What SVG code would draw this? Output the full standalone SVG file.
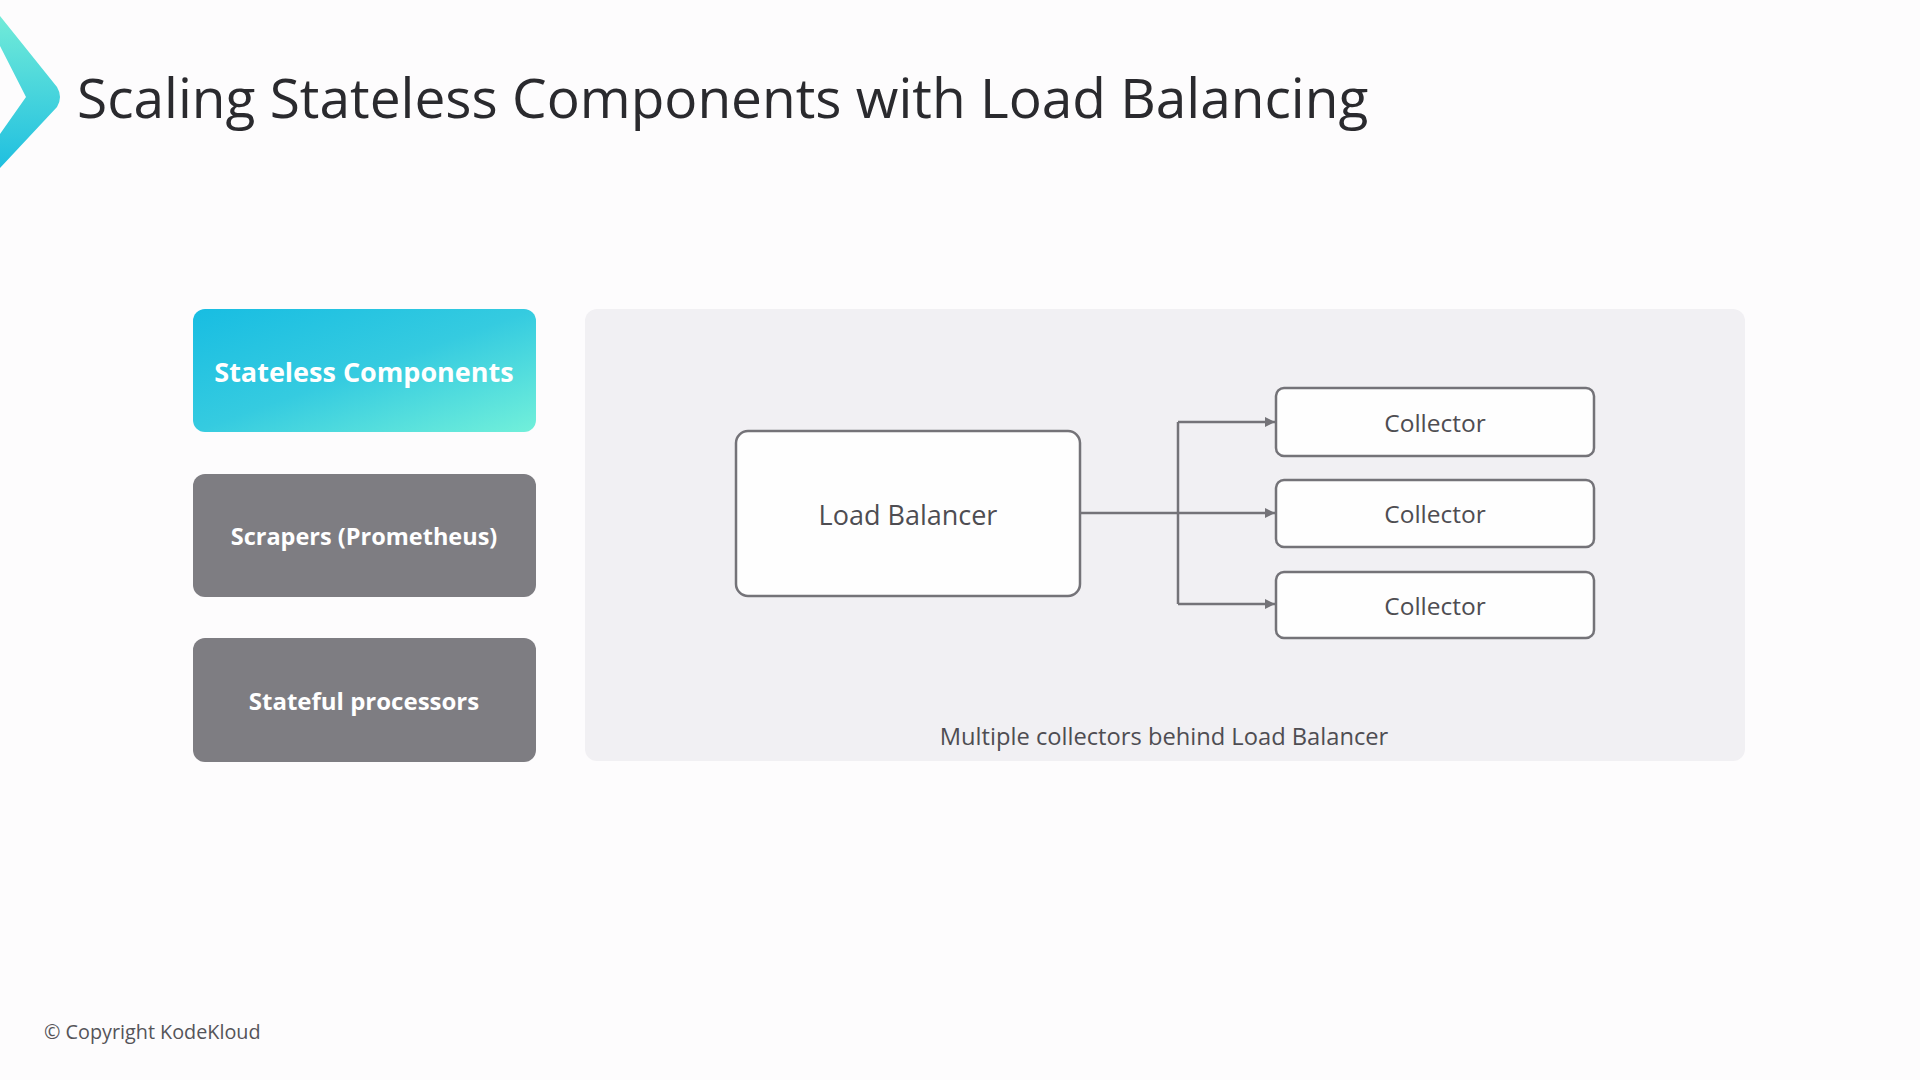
<svg xmlns="http://www.w3.org/2000/svg" width="1920" height="1080" viewBox="0 0 1920 1080">
<defs>
<linearGradient id="chev" x1="0" y1="0" x2="0" y2="1">
<stop offset="0" stop-color="#72ebd8"/>
<stop offset="1" stop-color="#1fbfe0"/>
</linearGradient>
<linearGradient id="sl" x1="0" y1="0" x2="1" y2="1">
<stop offset="0" stop-color="#18bde2"/>
<stop offset="0.5" stop-color="#35cbe0"/>
<stop offset="1" stop-color="#72f0da"/>
</linearGradient>
<marker id="arr" viewBox="0 0 10 10" refX="10" refY="5" markerWidth="10" markerHeight="10" markerUnits="userSpaceOnUse" orient="auto">
<path d="M0,0 L10,5 L0,10 Z" fill="#747378"/>
</marker>
<style>
.side{font-family:"Open Sans","Noto Sans",sans-serif;font-weight:700;font-size:24px;fill:#ffffff;text-anchor:middle;dominant-baseline:central}
.gray{fill:#7e7d82}
.box{fill:#fefefe;stroke:#747378;stroke-width:2.5}
.lbl{font-family:"Open Sans","Noto Sans",sans-serif;fill:#4e4d52;text-anchor:middle;dominant-baseline:central}
.conn{fill:none;stroke:#747378;stroke-width:2.5}
</style>
</defs>
<rect x="0" y="0" width="1920" height="1080" fill="#fdfcfd"/>
<path d="M0,16 L57,87 Q63,97 57,107 L0,168 L0,134 L26,97 L0,46 Z" fill="url(#chev)"/>
<text x="77" y="118" font-family="Open Sans, Noto Sans, sans-serif" font-size="55" fill="#2a2a2e">Scaling Stateless Components with Load Balancing</text>

<g id="stateless-components">
<rect x="193" y="309" width="343" height="123" rx="12" fill="url(#sl)"/>
<text class="side" x="364" y="371" font-size="27" style="font-size:27px">Stateless Components</text>
</g>
<g id="scrapers">
<rect class="gray" x="193" y="474" width="343" height="123" rx="12"/>
<text class="side" x="364" y="536" style="font-size:23.5px">Scrapers (Prometheus)</text>
</g>
<g id="stateful">
<rect class="gray" x="193" y="638" width="343" height="124" rx="12"/>
<text class="side" x="364" y="700">Stateful processors</text>
</g>

<g id="panel">
<rect x="585" y="309" width="1160" height="452" rx="12" fill="#f1f0f3"/>
<text class="lbl" x="1164" y="736" font-size="23.7">Multiple collectors behind Load Balancer</text>
</g>

<g id="load-balancer">
<rect class="box" x="736" y="431" width="344" height="165" rx="12"/>
<text class="lbl" x="908" y="514" font-size="27">Load Balancer</text>
</g>
<g id="collector-1">
<rect class="box" x="1276" y="388" width="318" height="68" rx="8"/>
<text class="lbl" x="1435" y="422" font-size="24.5">Collector</text>
</g>
<g id="collector-2">
<rect class="box" x="1276" y="480" width="318" height="67" rx="8"/>
<text class="lbl" x="1435" y="513" font-size="24.5">Collector</text>
</g>
<g id="collector-3">
<rect class="box" x="1276" y="572" width="318" height="66" rx="8"/>
<text class="lbl" x="1435" y="605" font-size="24.5">Collector</text>
</g>

<g id="connectors">
<path class="conn" d="M1081,513 L1275,513" marker-end="url(#arr)"/>
<path class="conn" d="M1178,422 L1178,604"/>
<path class="conn" d="M1178,422 L1275,422" marker-end="url(#arr)"/>
<path class="conn" d="M1178,604 L1275,604" marker-end="url(#arr)"/>
</g>

<text x="44" y="1039" font-family="Open Sans, Noto Sans, sans-serif" font-size="19.8" fill="#555459">© Copyright KodeKloud</text>
</svg>
